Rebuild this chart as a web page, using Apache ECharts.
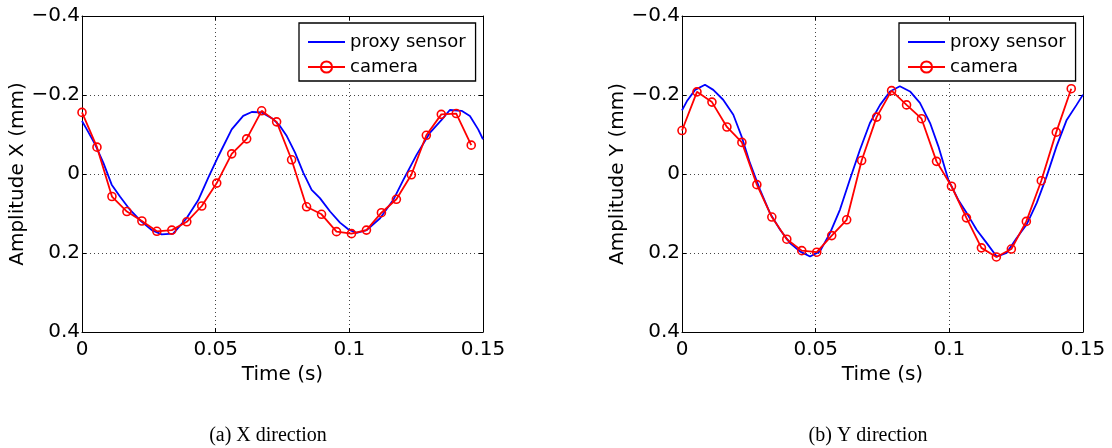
<!DOCTYPE html>
<html>
<head>
<meta charset="utf-8">
<script src="https://cdn.jsdelivr.net/npm/echarts@6/dist/echarts.min.js"></script>
<style>
html,body{margin:0;padding:0;background:#fff;}
#chart{width:1112px;height:448px;}
</style>
</head>
<body>
<div id="chart"></div>
<script>
// ---- data ----
var xTickLabels = ['0', '0.05', '0.1', '0.15'];
var yTickLabels = ['\u22120.4', '\u22120.2', '0', '0.2', '0.4'];
var seriesNames = ['proxy sensor', 'camera'];
var captions = ['(a) X direction', '(b) Y direction'];
var yAxisNames = ['Amplitude X (mm)', 'Amplitude Y (mm)'];
var xAxisName = 'Time (s)';

var proxyTimeX = [0, 0.0018, 0.0049, 0.0080, 0.0111, 0.0142, 0.0180, 0.0217, 0.0261, 0.0298, 0.0341, 0.0391, 0.0435, 0.0472, 0.0510, 0.0560, 0.0603, 0.0635, 0.0672, 0.0715, 0.0741, 0.0766, 0.0797, 0.0828, 0.0859, 0.0890, 0.0928, 0.0965, 0.0996, 0.1027, 0.1065, 0.1115, 0.1164, 0.1202, 0.1252, 0.1302, 0.1345, 0.1376, 0.1420, 0.1451, 0.1482, 0.1500];
var proxyX = [-0.134, -0.113, -0.075, -0.028, 0.027, 0.057, 0.091, 0.117, 0.142, 0.153, 0.151, 0.112, 0.066, 0.010, -0.045, -0.113, -0.147, -0.157, -0.156, -0.139, -0.121, -0.096, -0.054, -0.003, 0.040, 0.061, 0.095, 0.123, 0.140, 0.149, 0.142, 0.112, 0.066, 0.015, -0.049, -0.105, -0.137, -0.162, -0.160, -0.147, -0.113, -0.088];

var proxyTimeY = [0, 0.0018, 0.0049, 0.0086, 0.0117, 0.0154, 0.0192, 0.0223, 0.0254, 0.0292, 0.0329, 0.0367, 0.0404, 0.0441, 0.0479, 0.0516, 0.0554, 0.0591, 0.0628, 0.0666, 0.0703, 0.0741, 0.0778, 0.0815, 0.0853, 0.0890, 0.0928, 0.0959, 0.0996, 0.1033, 0.1065, 0.1102, 0.1140, 0.1177, 0.1214, 0.1252, 0.1289, 0.1327, 0.1364, 0.1401, 0.1439, 0.1476, 0.1500];
var proxyY = [-0.161, -0.184, -0.213, -0.226, -0.213, -0.188, -0.150, -0.095, -0.028, 0.040, 0.099, 0.141, 0.175, 0.196, 0.209, 0.196, 0.149, 0.090, 0.014, -0.062, -0.129, -0.175, -0.209, -0.222, -0.209, -0.180, -0.129, -0.070, 0.014, 0.065, 0.099, 0.141, 0.175, 0.209, 0.200, 0.162, 0.128, 0.073, 0.006, -0.070, -0.137, -0.175, -0.201];

var cameraTime = [0, 0.0056, 0.0112, 0.0168, 0.0224, 0.0280, 0.0336, 0.0392, 0.0448, 0.0504, 0.0560, 0.0616, 0.0672, 0.0728, 0.0784, 0.0840, 0.0896, 0.0952, 0.1008, 0.1064, 0.1120, 0.1176, 0.1232, 0.1288, 0.1344, 0.1400, 0.1456];
var cameraX = [-0.156, -0.068, 0.057, 0.095, 0.119, 0.145, 0.142, 0.121, 0.081, 0.023, -0.051, -0.089, -0.160, -0.132, -0.036, 0.083, 0.102, 0.146, 0.151, 0.142, 0.098, 0.064, 0.002, -0.098, -0.151, -0.153, -0.073];
var cameraY = [-0.110, -0.208, -0.182, -0.119, -0.080, 0.027, 0.109, 0.165, 0.194, 0.198, 0.156, 0.116, -0.034, -0.144, -0.211, -0.175, -0.140, -0.032, 0.031, 0.111, 0.187, 0.210, 0.190, 0.120, 0.017, -0.106, -0.216];

// ---- chart ----
var FONT = 'DejaVu Sans';
function pairs(xs, ys) { return xs.map(function (x, i) { return [x, ys[i]]; }); }

// plain line icon for the proxy-sensor legend entry (zero-area corner points keep the box 37x14)
var LINE_ICON = 'path://M0,0L0,0ZM37,14L37,14ZM0,6.1H37V7.9H0Z';

var gridLefts = [82, 682];
var grids = [], xAxes = [], yAxes = [], series = [], legends = [], graphics = [];
var tickStyle = { show: true, inside: true, length: 4, lineStyle: { color: '#000', width: 1 } };
var gridLineStyle = { show: true, lineStyle: { color: '#444', width: 1, type: [1, 3] } };

gridLefts.forEach(function (gl, g) {
  grids.push({ left: gl, top: 16, width: 401, height: 316 });
  xAxes.push({
    type: 'value', gridIndex: g, position: 'bottom', min: 0, max: 0.15, interval: 0.05,
    axisLine: { show: true, onZero: false, lineStyle: { color: '#000', width: 1 } },
    axisTick: tickStyle,
    axisLabel: { show: true, margin: 8, color: '#000', fontFamily: FONT, fontSize: 20,
      formatter: function (v, i) { return xTickLabels[i]; } },
    splitLine: gridLineStyle,
    name: xAxisName, nameLocation: 'middle', nameGap: 28,
    nameTextStyle: { color: '#000', fontFamily: FONT, fontSize: 20 }
  });
  xAxes.push({
    type: 'value', gridIndex: g, position: 'top', min: 0, max: 0.15, interval: 0.05,
    axisLine: { show: true, onZero: false, lineStyle: { color: '#000', width: 1 } },
    axisTick: tickStyle, axisLabel: { show: false }, splitLine: { show: false }
  });
  yAxes.push({
    type: 'value', gridIndex: g, position: 'left', inverse: true, min: -0.4, max: 0.4, interval: 0.2,
    axisLine: { show: true, onZero: false, lineStyle: { color: '#000', width: 1 } },
    axisTick: tickStyle,
    axisLabel: { show: true, margin: 2, color: '#000', fontFamily: FONT, fontSize: 20,
      formatter: function (v, i) { return yTickLabels[i]; } },
    splitLine: gridLineStyle,
    name: yAxisNames[g], nameLocation: 'middle', nameGap: 51,
    nameTextStyle: { color: '#000', fontFamily: FONT, fontSize: 20 }
  });
  yAxes.push({
    type: 'value', gridIndex: g, position: 'right', inverse: true, min: -0.4, max: 0.4, interval: 0.2,
    axisLine: { show: true, onZero: false, lineStyle: { color: '#000', width: 1 } },
    axisTick: tickStyle, axisLabel: { show: false }, splitLine: { show: false }
  });

  series.push({
    name: seriesNames[0], type: 'line', xAxisIndex: g * 2, yAxisIndex: g * 2,
    data: pairs(g === 0 ? proxyTimeX : proxyTimeY, g === 0 ? proxyX : proxyY),
    showSymbol: false, symbol: 'none', silent: true,
    color: '#0000ff',
    lineStyle: { color: '#0000ff', width: 1.8 }
  });
  series.push({
    name: seriesNames[1], type: 'line', xAxisIndex: g * 2, yAxisIndex: g * 2,
    data: pairs(cameraTime, g === 0 ? cameraX : cameraY),
    symbol: 'circle', symbolSize: 8, showSymbol: true, silent: true,
    color: '#ff0000',
    lineStyle: { color: '#ff0000', width: 1.8 },
    itemStyle: { color: 'rgba(255,255,255,0)', borderColor: '#ff0000', borderWidth: 1.6 }
  });

  legends.push({
    left: gl + 217, top: 23, orient: 'vertical',
    data: [
      { name: seriesNames[0], icon: LINE_ICON, itemStyle: { color: '#0000ff', borderWidth: 0 } },
      { name: seriesNames[1] }
    ],
    itemWidth: 37, itemHeight: 14, itemGap: 7,
    padding: [10, 10, 5, 8],
    borderColor: '#000', borderWidth: 1.3, backgroundColor: '#fff',
    selectedMode: false,
    textStyle: { color: '#000', fontFamily: FONT, fontSize: 18 }
  });

  graphics.push({
    type: 'text', x: gl + 186, y: 436,
    style: { text: captions[g], font: '20px "Liberation Serif"', fill: '#000',
      align: 'center', verticalAlign: 'middle' }
  });
});

var chart = echarts.init(document.getElementById('chart'), null, { renderer: 'canvas' });
chart.setOption({
  animation: false,
  backgroundColor: '#fff',
  grid: grids,
  xAxis: xAxes,
  yAxis: yAxes,
  legend: legends,
  series: series,
  graphic: graphics
});
</script>
</body>
</html>
